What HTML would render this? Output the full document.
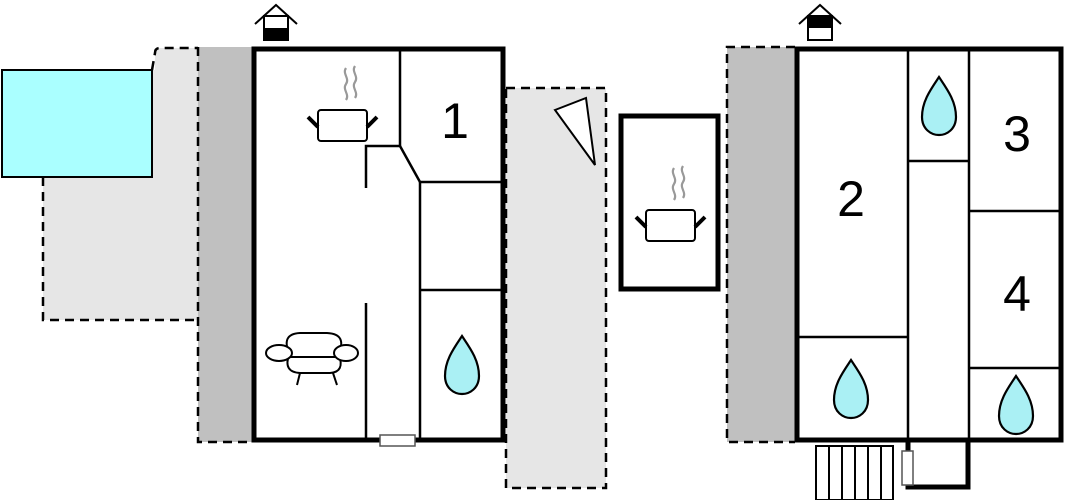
<!DOCTYPE html>
<html><head><meta charset="utf-8"><style>html,body{margin:0;padding:0;background:#fff}svg{display:block}</style></head>
<body>
<svg width="1066" height="500" viewBox="0 0 1066 500" xmlns="http://www.w3.org/2000/svg" font-family="Liberation Sans, sans-serif">
<defs>
<g id="pot">
 <path d="M-18,-22 c-4,6 4,10 0,16 c-4,6 4,10 0,16" fill="none" stroke="#999" stroke-width="2.2" transform="translate(22,-20)"/>
 <path d="M-18,-22 c-4,6 4,10 0,16 c-4,6 4,10 0,16" fill="none" stroke="#999" stroke-width="2.2" transform="translate(31,-22)"/>
 <rect x="-24" y="0" width="49" height="31" rx="3" fill="#fff" stroke="#000" stroke-width="2"/>
 <line x1="-34" y1="7" x2="-24" y2="17" stroke="#000" stroke-width="4"/>
 <line x1="35" y1="7" x2="25" y2="17" stroke="#000" stroke-width="4"/>
</g>
<path id="drop" d="M0,-30 C8,-18 17,-6 17,10 C17,22 8,28 0,28 C-8,28 -17,22 -17,10 C-17,-6 -8,-18 0,-30 Z" fill="#aaf0f4" stroke="#000" stroke-width="2.2"/>
<g id="chim">
 <polyline points="-21,5 0,-14 21,5" fill="none" stroke="#000" stroke-width="2"/>
</g>
</defs>
<!-- left outdoor -->
<path d="M160,48 L198,48 L198,320 L43,320 L43,177 L152,177 L152,70 L155,70 L155,53 Q155,48 160,48 Z" fill="#e6e6e6"/>
<path d="M152,70 L155,53 Q155,48 160,48 L198,48 M43,177 L43,320 L198,320" fill="none" stroke="#000" stroke-width="2.5" stroke-dasharray="9,6"/>
<rect x="2" y="70" width="150" height="107" fill="#aaffff" stroke="#000" stroke-width="2"/>
<rect x="198" y="47" width="54" height="395" fill="#c0c0c0"/>
<path d="M198,47 L198,442 L252,442" fill="none" stroke="#000" stroke-width="2.5" stroke-dasharray="9,6"/>
<!-- right of left house strip -->
<rect x="506" y="88" width="100" height="400" fill="#e6e6e6" stroke="#000" stroke-width="2.5" stroke-dasharray="9,6"/>
<polygon points="555,110 586,98 595,165" fill="#fff" stroke="#000" stroke-width="2"/>
<!-- middle box -->
<rect x="621" y="116" width="97" height="173" fill="#fff" stroke="#000" stroke-width="5"/>
<use href="#pot" x="670" y="210"/>
<!-- right dark strip -->
<rect x="727" y="47" width="68" height="395" fill="#c0c0c0"/>
<path d="M795,47 L727,47 L727,442 L795,442" fill="none" stroke="#000" stroke-width="2.5" stroke-dasharray="9,6"/>
<!-- left house -->
<rect x="254" y="49" width="249" height="391" fill="#fff" stroke="#000" stroke-width="5"/>
<g stroke="#000" stroke-width="2.5" fill="none">
 <polyline points="400,49 400,146 366,146 366,188"/>
 <polyline points="400,146 420,182 502,182"/>
 <line x1="420" y1="182" x2="420" y2="440"/>
 <line x1="420" y1="290" x2="502" y2="290"/>
 <line x1="366" y1="303" x2="366" y2="440"/>
</g>
<rect x="380" y="435" width="35" height="11" fill="#fff" stroke="#555" stroke-width="1.5"/>
<text x="455" y="138" font-size="50" text-anchor="middle">1</text>
<use href="#pot" x="342" y="110"/>
<use href="#drop" x="462" y="366"/>
<!-- sofa -->
<g stroke="#000" stroke-width="2" fill="#fff">
 <path d="M290,355 Q280,334 300,333 L327,333 Q348,334 338,355"/>
 <path d="M289,355 Q283,372 300,373 L330,373 Q345,372 339,355"/>
 <line x1="290" y1="357" x2="340" y2="357"/>
 <ellipse cx="279" cy="353" rx="13" ry="8"/>
 <ellipse cx="346" cy="353" rx="12" ry="8"/>
 <line x1="300" y1="373" x2="297" y2="385"/>
 <line x1="333" y1="373" x2="337" y2="385"/>
</g>
<!-- chimneys -->
<use href="#chim" x="276" y="19"/>
<rect x="264" y="16" width="24" height="24" fill="#fff" stroke="#000" stroke-width="2"/>
<rect x="264" y="28" width="24" height="12" fill="#000"/>
<use href="#chim" x="820" y="19"/>
<rect x="808" y="16" width="24" height="24" fill="#fff" stroke="#000" stroke-width="2"/>
<rect x="808" y="16" width="24" height="12" fill="#000"/>
<!-- right house -->
<rect x="797" y="49" width="264" height="391" fill="#fff" stroke="#000" stroke-width="5"/>
<g stroke="#000" stroke-width="2.5" fill="none">
 <line x1="908" y1="49" x2="908" y2="440"/>
 <line x1="797" y1="337" x2="908" y2="337"/>
 <line x1="969" y1="49" x2="969" y2="440"/>
 <line x1="908" y1="161" x2="969" y2="161"/>
 <line x1="969" y1="211" x2="1061" y2="211"/>
 <line x1="969" y1="368" x2="1061" y2="368"/>
</g>
<polyline points="908,440 908,487 968,487 968,440" fill="none" stroke="#000" stroke-width="5"/>
<rect x="902" y="451" width="11" height="34" fill="#fff" stroke="#555" stroke-width="1.5"/>
<g stroke="#000" stroke-width="2" fill="#fff">
 <rect x="816" y="446" width="77" height="54"/>
 <line x1="829" y1="446" x2="829" y2="500"/><line x1="842" y1="446" x2="842" y2="500"/>
 <line x1="855" y1="446" x2="855" y2="500"/><line x1="868" y1="446" x2="868" y2="500"/>
 <line x1="881" y1="446" x2="881" y2="500"/>
</g>
<text x="851" y="216" font-size="50" text-anchor="middle">2</text>
<text x="1017" y="151" font-size="50" text-anchor="middle">3</text>
<text x="1017" y="311" font-size="50" text-anchor="middle">4</text>
<use href="#drop" x="939" y="107"/>
<use href="#drop" x="851" y="390"/>
<use href="#drop" x="1016" y="406"/>
</svg>
</body></html>
